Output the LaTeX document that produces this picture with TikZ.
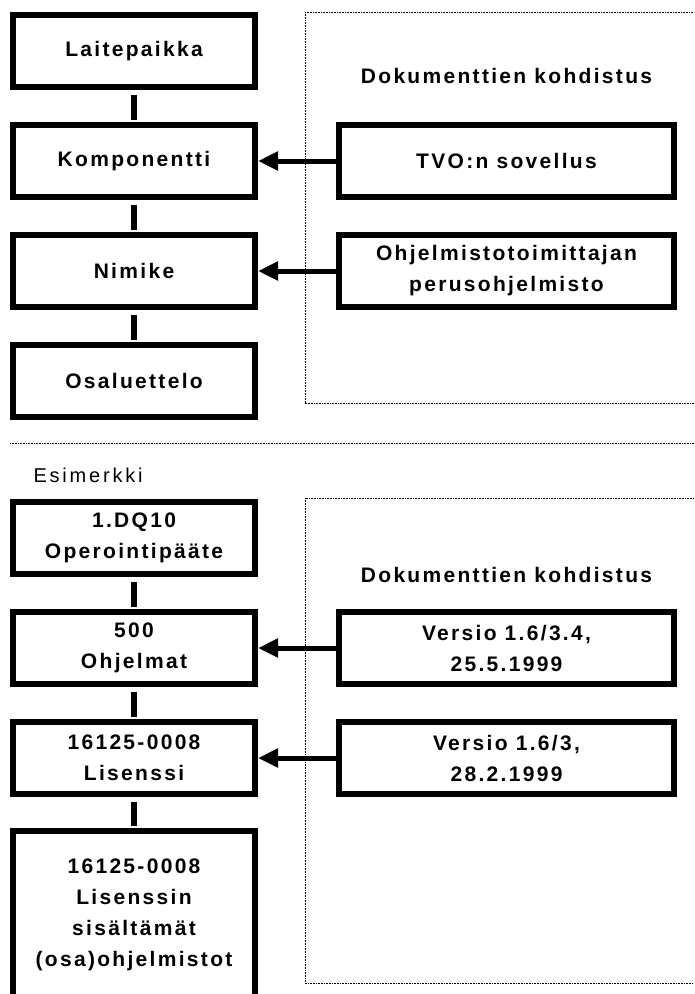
\documentclass[tikz,border=0pt]{standalone}
\usepackage{fontspec}
\setmainfont{Liberation Sans}
\newfontfamily\spacedfont[LetterSpace=11]{Liberation Sans}
\newfontfamily\widefont[LetterSpace=14]{Liberation Sans}
\usetikzlibrary{arrows.meta,positioning}
\tikzset{
block/.style = {draw, line width=6pt, fill=white, rectangle, minimum width=242pt, minimum height=72pt, inner sep=0pt, align=center, font=\spacedfont\fontsize{21}{31}\selectfont\bfseries},
docblock/.style = {block, minimum width=335pt},
title/.style = {font=\spacedfont\fontsize{21}{31}\selectfont\bfseries},
caption/.style = {font=\widefont\fontsize{20}{24}\selectfont},
link/.style = {line width=6pt, shorten <=5pt, shorten >=2pt},
ref/.style = {->, line width=5pt},
frame/.style = {line width=0.8pt, dash pattern=on 0.8pt off 0.8pt}
}

\begin{document}
\begin{tikzpicture}[x=1pt, y=1pt, node distance=110pt, >={Triangle[length=20pt,width=18pt]}]
  \clip (0,0) rectangle (694,-994);
  % upper part
  \node [block]                                          (laitepaikka) at (134,-51) {Laitepaikka};
  \node [block, below of=laitepaikka]                    (komponentti) {Komponentti};
  \node [block, below of=komponentti]                    (nimike)      {Nimike};
  \node [block, below of=nimike]                         (osaluettelo) {Osaluettelo};
  \node [docblock, right of=komponentti, node distance=372.5pt] (sovellus) {TVO:n sovellus};
  \node [docblock, right of=nimike, node distance=372.5pt]      (perusohj) {Ohjelmistotoimittajan\\perusohjelmisto};
  \node [title, above of=sovellus, node distance=85pt]   (kohdistus)   {Dokumenttien kohdistus};
  \draw [frame] (305,-12) rectangle (720,-403);

  \draw [link] (laitepaikka) -- (komponentti);
  \draw [link] (komponentti) -- (nimike);
  \draw [link] (nimike) -- (osaluettelo);
  \draw [ref] (sovellus) -- (komponentti);
  \draw [ref] (perusohj) -- (nimike);

  % separator
  \coordinate (sepa) at (10,-443);
  \coordinate (sepb) at (720,-443);
  \draw [frame] (sepa) -- (sepb);

  % example part
  \node [caption, anchor=base west] (esimerkki) at (30,-482) {Esimerkki};
  \node [block]                                          (operointi) at (134,-538) {1.DQ10\\Operointip\"a\"ate};
  \node [block, below of=operointi]                      (ohjelmat)    {500\\Ohjelmat};
  \node [block, below of=ohjelmat]                       (lisenssi)    {16125-0008\\Lisenssi};
  \node [block, below of=lisenssi, node distance=157pt, minimum height=168pt] (sisalto) {16125-0008\\Lisenssin\\sis\"alt\"am\"at\\(osa)ohjelmistot};
  \node [docblock, right of=ohjelmat, node distance=372.5pt] (versioa) {Versio 1.6/3.4,\\25.5.1999};
  \node [docblock, right of=lisenssi, node distance=372.5pt] (versiob) {Versio 1.6/3,\\28.2.1999};
  \node [title, above of=versioa, node distance=73pt]    (kohdistusb)  {Dokumenttien kohdistus};
  \draw [frame] (305,-498) rectangle (720,-983);

  \draw [link] (operointi) -- (ohjelmat);
  \draw [link] (ohjelmat) -- (lisenssi);
  \draw [link] (lisenssi) -- (sisalto);
  \draw [ref] (versioa) -- (ohjelmat);
  \draw [ref] (versiob) -- (lisenssi);
\end{tikzpicture}
\end{document}
